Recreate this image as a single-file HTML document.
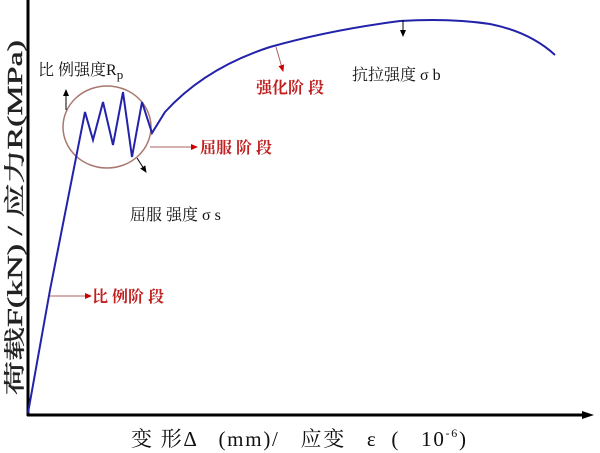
<!DOCTYPE html>
<html><head><meta charset="utf-8"><style>
body{margin:0;background:#fff;}
svg{display:block;font-family:"Liberation Serif","Noto Serif CJK SC",serif;}
text{white-space:pre;}
</style></head><body>
<svg width="600" height="453" viewBox="0 0 600 453">
<defs>
<marker id="ab" markerWidth="8" markerHeight="8" refX="6" refY="3" orient="auto"><path d="M0,0 L7,3 L0,6Z" fill="#000"/></marker>
<marker id="ar" markerWidth="8" markerHeight="8" refX="6" refY="3" orient="auto"><path d="M0,0 L7,3 L0,6Z" fill="#c00"/></marker>
</defs>
<line x1="28" y1="0" x2="28" y2="416" stroke="#000" stroke-width="3"/>
<line x1="27" y1="415" x2="588" y2="415" stroke="#000" stroke-width="3"/>
<path d="M582,411 L594,415 L582,419Z" fill="#000"/>
<ellipse cx="107" cy="127" rx="44" ry="41" fill="none" stroke="#a87870" stroke-width="1.5"/>
<path d="M28,413 L50,290 L85,112 L93,140 L103,102 L113,145 L123,92 L132,157 L142,102 L152,133 L165,112 Q205,68 270,47 Q330,30 400,21 Q450,18 490,24 Q530,32 555,55" fill="none" stroke="#2222aa" stroke-width="2"/>
<line x1="66" y1="110" x2="66" y2="90" stroke="#000" marker-end="url(#ab)"/>
<line x1="137" y1="158" x2="146" y2="172" stroke="#000" marker-end="url(#ab)"/>
<line x1="403" y1="20" x2="403" y2="36" stroke="#000" marker-end="url(#ab)"/>
<line x1="276" y1="47" x2="283" y2="71" stroke="#a86060" marker-end="url(#ar)"/>
<line x1="150" y1="147" x2="197" y2="147" stroke="#a86060" marker-end="url(#ar)"/>
<line x1="50" y1="296" x2="91" y2="296" stroke="#a86060" marker-end="url(#ar)"/>
<g font-size="16" fill="#111">
<text x="38" y="75">比 例强度R<tspan font-size="13" dy="4">p</tspan></text>
<text x="352" y="80">抗拉强度 σ b</text>
<text x="130" y="220">屈服 强度 σ s</text>
</g>
<g font-size="16" fill="#c02020" font-weight="bold">
<text x="256" y="93">强化阶 段</text>
<text x="200" y="153">屈服 阶 段</text>
<text x="92" y="302">比 例阶 段</text>
</g>
<text x="131" y="446" font-size="21" fill="#111" textLength="335" lengthAdjust="spacing">变 形Δ   (mm)/   应变   ε  (   10<tspan font-size="12" dy="-9">-6</tspan><tspan dy="9">)</tspan></text>
<text transform="translate(22,395) rotate(-90)" font-size="21" fill="#222" stroke="#222" stroke-width="0.4" textLength="355" lengthAdjust="spacingAndGlyphs">荷载F(kN) / 应力R(MPa)</text>
</svg>
</body></html>
